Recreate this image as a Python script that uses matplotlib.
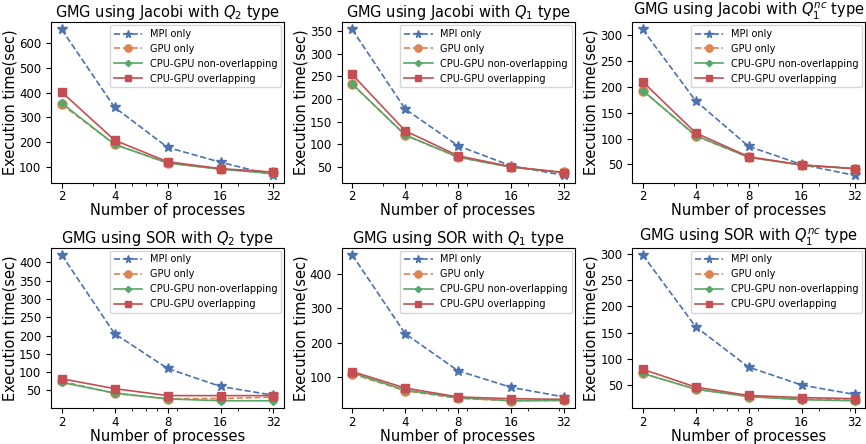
import numpy as np
import matplotlib
matplotlib.use("Agg")
import matplotlib.pyplot as plt
from matplotlib.ticker import NullFormatter

procs = [2, 4, 8, 16, 32]

titles = [
    r"GMG using Jacobi with $Q_2$ type",
    r"GMG using Jacobi with $Q_1$ type",
    r"GMG using Jacobi with $Q_1^{nc}$ type",
    r"GMG using SOR with $Q_2$ type",
    r"GMG using SOR with $Q_1$ type",
    r"GMG using SOR with $Q_1^{nc}$ type",
]

mpi_only = [
    [655, 340, 178, 118, 65],
    [353, 178, 97, 53, 32],
    [311, 173, 85, 50, 29],
    [420, 205, 110, 61, 37],
    [455, 226, 118, 70, 42],
    [298, 161, 84, 50, 32],
]
gpu_only = [
    [352, 190, 115, 90, 78],
    [233, 120, 72, 50, 39],
    [193, 105, 64, 49, 42],
    [75, 42, 27, 28, 32],
    [109, 60, 38, 31, 32],
    [72, 42, 28, 23, 21],
]
non_overlap = [
    [357, 190, 115, 90, 72],
    [233, 121, 72, 50, 38],
    [193, 106, 64, 49, 42],
    [72, 43, 27, 22, 22],
    [112, 62, 40, 31, 32],
    [72, 42, 28, 22, 20],
]
overlap = [
    [402, 207, 120, 92, 78],
    [254, 130, 75, 51, 38],
    [210, 111, 65, 49, 42],
    [82, 55, 36, 36, 36],
    [116, 68, 42, 37, 35],
    [80, 46, 30, 26, 24],
]

yticks = [
    [100, 200, 300, 400, 500, 600],
    [50, 100, 150, 200, 250, 300, 350],
    [50, 100, 150, 200, 250, 300],
    [50, 100, 150, 200, 250, 300, 350, 400],
    [100, 200, 300, 400],
    [50, 100, 150, 200, 250, 300],
]

blue, orange, green, red = "#4C72B0", "#DD8452", "#55A868", "#C44E52"

fig, axes = plt.subplots(2, 3, figsize=(8.66, 4.44), dpi=100)
fig.subplots_adjust(left=0.059, right=0.999, top=0.95, bottom=0.081,
                    wspace=0.247, hspace=0.405)

for i, ax in enumerate(axes.flat):
    ax.plot(procs, mpi_only[i], "--", color=blue, marker="*", ms=7, lw=1.2, label="MPI only")
    ax.plot(procs, gpu_only[i], "--", color=orange, marker="o", ms=6.5, lw=1.2, label="GPU only")
    ax.plot(procs, non_overlap[i], "-", color=green, marker="D", ms=4, lw=1.2,
            label="CPU-GPU non-overlapping")
    ax.plot(procs, overlap[i], "-", color=red, marker="s", ms=5.5, lw=1.2,
            label="CPU-GPU overlapping")
    ax.set_xscale("log")
    ax.set_xticks(procs)
    ax.set_xticklabels([str(p) for p in procs])
    ax.xaxis.set_minor_formatter(NullFormatter())
    ax.set_yticks(yticks[i])
    ax.tick_params(labelsize=8.5, length=3.5)
    ax.tick_params(axis="x", pad=2)
    ax.tick_params(which="minor", length=2)
    ax.set_title(titles[i], fontsize=10.5, pad=3)
    ax.set_xlabel("Number of processes", fontsize=10.5, labelpad=0)
    ax.set_ylabel("Execution time(sec)", fontsize=10.5, labelpad=1)
    ax.legend(loc="upper right", fontsize=7, handlelength=2.9, borderaxespad=0.3,
              labelspacing=0.5, markerscale=0.8)

plt.savefig("out.png", dpi=100)
